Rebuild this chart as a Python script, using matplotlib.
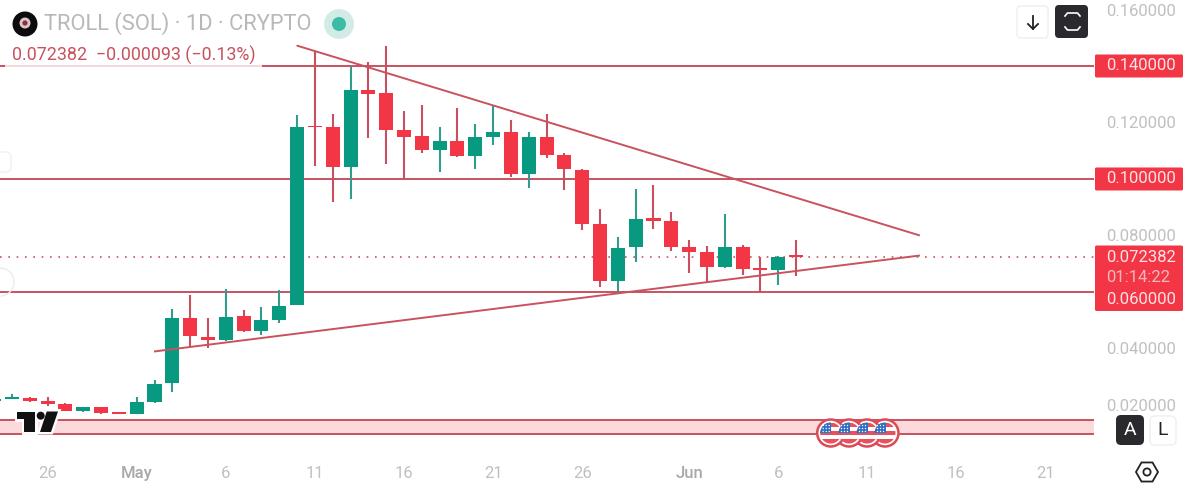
import matplotlib
matplotlib.use("Agg")
import matplotlib.pyplot as plt
import matplotlib.patheffects as pe
from matplotlib.patches import Circle, FancyBboxPatch, Polygon, Rectangle, RegularPolygon
import numpy as np

plt.rcParams["font.family"] = ["Roboto", "DejaVu Sans"]

# Daily candles, day number counted from May 1
days = list(range(-8, 38))
opens = [.02150, .02212, .02240, .02148, .02052, .01780, .01921, .01734, .01698, .02098, .02771,
         .05086, .04424, .04283, .05143, .04612, .05015, .05532, .11848, .11833, .10407, .13133,
         .13037, .11727, .11515, .11019, .11352, .10807, .11494, .11656, .10184, .11479, .10867,
         .10325, .08414, .06382, .07585, .08626, .08520, .07610, .07433, .06867, .07585, .06831,
         .06785, .07256]
highs = [.02350, .02382, .02275, .02290, .02063, .01935, .01935, .01769, .02275, .02867, .05405,
         .05911, .05072, .06123, .05355, .05461, .06053, .12283, .14524, .12294, .13957, .14134,
         .14715, .12414, .12602, .11848, .12520, .11940, .12602, .12071, .11671, .12318, .10927,
         .10371, .08945, .07939, .09663, .09805, .08849, .07847, .07621, .08778, .07646, .07221,
         .07267, .07858]
lows = [.02100, .02212, .02123, .01971, .01780, .01758, .01688, .01674, .01688, .02063, .02452,
        .04070, .04024, .04270, .04590, .04495, .04895, .05522, .10453, .09203, .09285, .11458,
        .10524, .09993, .10913, .10240, .10786, .10347, .11196, .10053, .09688, .10736, .09628,
        .08177, .06194, .05982, .07069, .08223, .07444, .06665, .06360, .06860, .06619, .05992,
        .06230, .06559]
closes = [.02220, .02240, .02148, .02052, .01794, .01921, .01709, .01688, .02098, .02760, .05086,
          .04435, .04283, .05132, .04612, .04991, .05511, .11833, .11823, .10407, .13133, .13002,
          .11727, .11494, .11019, .11352, .10821, .11479, .11656, .10184, .11469, .10867, .10371,
          .08400, .06382, .07564, .08601, .08506, .07610, .07433, .06867, .07575, .06807, .06785,
          .07231, .072382]

level_prices = [0.14, 0.10, 0.06]
zone_prices = [0.00990, 0.01486]
falling_trend = ([8.97, 43.95], [0.14726, 0.08000])
rising_trend = ([0.97, 43.95], [0.03893, 0.07292])
last_price = 0.072382

axis_ticks = [0.16, 0.12, 0.08, 0.04, 0.02]
date_ticks = [-5, 0, 5, 10, 15, 20, 25, 31, 36, 41, 46, 51]
date_labels = ["26", "May", "6", "11", "16", "21", "26", "Jun", "6", "11", "16", "21"]
flag_centres = [885, 867, 849, 830.7]

UP = "#089981"
DOWN = "#f23645"
UP_WICK = "#2f9c8c"
DOWN_WICK = "#c94f5e"
DRAW = "#c9525f"
MUTED = "#c0c0c0"

W, H = 1199, 488
PANE_W, PANE_H = 1094, 460
fig = plt.figure(figsize=(W / 100, H / 100), dpi=100, facecolor="white")
ax = fig.add_axes([0, 1 - PANE_H / H, PANE_W / W, PANE_H / H])

PX_PER_DAY = 17.82
X0 = 136.7
PRICE_PER_PX = 0.000354
TOP_PX = 9.5
ax.set_xlim(-X0 / PX_PER_DAY, (PANE_W - X0) / PX_PER_DAY)
ax.set_ylim(0.16 - (PANE_H - TOP_PX) * PRICE_PER_PX, 0.16 + TOP_PX * PRICE_PER_PX)


def price_px(price):
    return TOP_PX + (0.16 - price) / PRICE_PER_PX


# Support and resistance drawings
ax.axhspan(zone_prices[0], zone_prices[1], facecolor="#fcdadb", edgecolor="none", zorder=1)
for p in zone_prices:
    ax.axhline(p, color=DRAW, lw=1.4, zorder=1.5)
for p in level_prices:
    ax.axhline(p, color=DRAW, lw=1.4, zorder=1.5)
ax.axhline(last_price, color=DRAW, lw=1.2, ls=(0, (1, 4)), zorder=1.5)

# Candles
for d, o, h, l, c in zip(days, opens, highs, lows, closes):
    rising = c >= o
    ax.vlines(d, l, h, color=UP_WICK if rising else DOWN_WICK, lw=1.5, zorder=2)
    ax.bar(d, max(abs(c - o), 0.0006), bottom=min(o, c), width=0.79,
           color=UP if rising else DOWN, zorder=3, linewidth=0)

ax.plot(*falling_trend, color=DRAW, lw=1.4, zorder=4, solid_capstyle="butt")
ax.plot(*rising_trend, color=DRAW, lw=1.4, zorder=4, solid_capstyle="butt")

for s in ax.spines.values():
    s.set_visible(False)
ax.set_xticks(date_ticks, date_labels)
ax.yaxis.tick_right()
ax.set_yticks(axis_ticks, [f"{v:.6f}" for v in axis_ticks])
ax.tick_params(axis="both", length=0, labelcolor=MUTED)
ax.tick_params(axis="x", labelsize=12, pad=4)
ax.tick_params(axis="y", labelsize=12, pad=8.5)
for lab in ax.get_xticklabels():
    if lab.get_text() in ("May", "Jun"):
        lab.set_color("#a8a8a8")
        lab.set_fontweight("medium")

# Interface layer, in pixel coordinates
ui = fig.add_axes([0, 0, 1, 1], facecolor="none", zorder=5)
ui.set_xlim(0, W)
ui.set_ylim(H, 0)
ui.axis("off")


def round_box(x0, y0, x1, y1, r, **kw):
    ui.add_patch(FancyBboxPatch((x0 + r, y0 + r), x1 - x0 - 2 * r, y1 - y0 - 2 * r,
                                boxstyle=f"round,pad={r},rounding_size={r}", **kw))


# Side tabs at the left edge
round_box(-12, 152, 11, 172, 5, facecolor="none", edgecolor="#f1f1f1", lw=1)
ui.add_patch(Circle((0, 282), 14, facecolor="none", edgecolor="#ececec", lw=1))

# Header
ui.add_patch(Rectangle((5, 43), 257, 27, facecolor="white", alpha=0.78, edgecolor="none"))
ui.add_patch(Circle((25, 24), 12.5, facecolor="#0c0c0e", edgecolor="none"))
ui.add_patch(Circle((25, 23), 5.5, facecolor="#d9c6c8", edgecolor="none"))
ui.add_patch(Circle((25, 23), 2.6, facecolor="#8c2f3a", edgecolor="none"))
ui.text(44, 24, "TROLL (SOL) · 1D · CRYPTO", fontsize=15.75, color="#b8b8b8", va="center", ha="left")
ui.add_patch(Circle((339, 24), 15, facecolor="#d3ebe7", edgecolor="none"))
ui.add_patch(Circle((339, 24), 7, facecolor="#3dbba4", edgecolor="none"))
ui.text(12, 55, "0.072382  −0.000093 (−0.13%)", fontsize=12.85, color=DRAW, va="center", ha="left")

# Toolbar buttons
round_box(1017, 6, 1048, 38, 4, facecolor="white", edgecolor="#eeeeee", lw=1)
ui.plot([1033, 1033], [16, 29], color="#222222", lw=1.3)
ui.plot([1028, 1033, 1038], [24, 29, 24], color="#222222", lw=1.3)
round_box(1055, 5, 1088, 38, 4, facecolor="#2a2a2e", edgecolor="none")
for ys in ([16, 13, 13, 16], [27, 30, 30, 27]):
    ui.plot([1065, 1067.5, 1077.5, 1080], ys, color="white", lw=1.2)

# Price tags
tag_left, tag_right = 1095, 1183
p14 = price_px(level_prices[0])
p10 = price_px(level_prices[1])
p06 = price_px(level_prices[2])
pl = price_px(last_price)
tag_text = "#fde3e5"
round_box(tag_left, p14 - 11.5, tag_right, p14 + 11.5, 1.5, facecolor=DOWN, edgecolor="none")
round_box(tag_left, p10 - 11.5, tag_right, p10 + 11.5, 1.5, facecolor=DOWN, edgecolor="none")
round_box(tag_left, pl - 11.5, tag_right, p06 + 19, 1.5, facecolor=DOWN, edgecolor="none")
ui.text(1106, p14, f"{level_prices[0]:.6f}", fontsize=12, color=tag_text, va="center")
ui.text(1106, p10, f"{level_prices[1]:.6f}", fontsize=12, color=tag_text, va="center")
ui.text(1106, pl, f"{last_price:.6f}", fontsize=12, color=tag_text, va="center")
ui.text(1106, pl + 20, "01:14:22", fontsize=12, color="#f9b7bd", va="center")
ui.text(1106, p06 + 8, f"{level_prices[2]:.6f}", fontsize=12, color=tag_text, va="center")

# Scale mode buttons and settings icon
ui.add_patch(Rectangle((1100, 411), 90, 40, facecolor="white", edgecolor="none"))
round_box(1116, 415, 1144, 445, 5, facecolor="#2a2a2e", edgecolor="none")
ui.text(1130, 430, "A", fontsize=14, color="white", ha="center", va="center")
round_box(1150, 416, 1176, 445, 5, facecolor="white", edgecolor="#eeeeee", lw=1)
ui.text(1163, 430, "L", fontsize=14, color="#222222", ha="center", va="center")
ui.add_patch(RegularPolygon((1147, 472), 6, radius=11, orientation=np.pi / 2,
                            facecolor="none", edgecolor="#222222", lw=1.3))
ui.add_patch(Circle((1147, 472), 3.6, facecolor="none", edgecolor="#222222", lw=1.3))

# Watermark: white outlines first, then the black shapes
logo_t = [(17, 411.5), (35, 411.5), (35, 432), (24, 432), (24, 418.5), (17, 418.5)]
logo_slash = [(46.7, 411.5), (58, 411.5), (51, 432), (40, 432)]
for pts in (logo_t, logo_slash):
    ui.add_patch(Polygon(pts, closed=True, facecolor="white", edgecolor="white", lw=3.5))
ui.add_patch(Circle((40.7, 415.7), 4, facecolor="white", edgecolor="white", lw=3.5))
for pts in (logo_t, logo_slash):
    ui.add_patch(Polygon(pts, closed=True, facecolor="#111111", edgecolor="none"))
ui.add_patch(Circle((40.7, 415.7), 4, facecolor="#111111", edgecolor="none"))

# Economic event markers
for cx in flag_centres:
    cy = 433
    ui.add_patch(Circle((cx, cy), 13.5, facecolor="white", edgecolor="#dc4a55", lw=1.8, zorder=6))
    clip = Circle((cx, cy), 10.5, transform=ui.transData)
    for k, colour in enumerate(["#e8505b", "white", "#e8505b", "white", "#e8505b"]):
        st = ui.add_patch(Rectangle((cx - 11, cy - 10.5 + k * 4.2), 22, 4.2, facecolor=colour,
                                    edgecolor="none", zorder=6.1))
        st.set_clip_path(clip)
    canton = ui.add_patch(Rectangle((cx - 11, cy - 11), 11.5, 11, facecolor="#2f6fc4",
                                    edgecolor="none", zorder=6.2))
    canton.set_clip_path(clip)
    for sx in (-7.5, -4.5, -1.5):
        for sy in (-7.5, -4.5, -1.5):
            ui.add_patch(Circle((cx + sx, cy + sy), 0.7, facecolor="white",
                                edgecolor="none", zorder=6.3))

fig.savefig("out.png", dpi=100)
